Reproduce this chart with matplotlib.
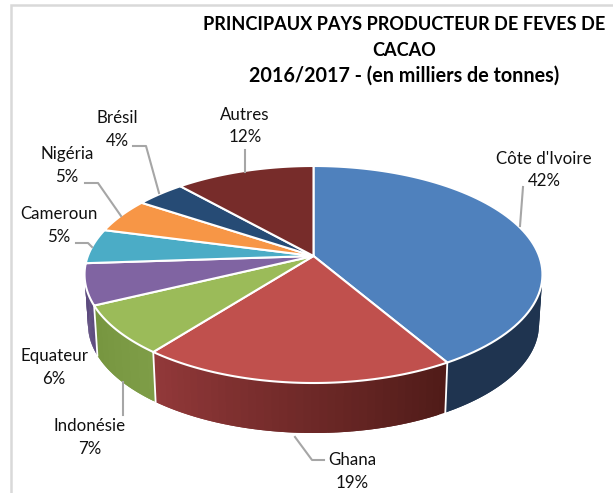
import numpy as np
import matplotlib
matplotlib.use("Agg")
import matplotlib.pyplot as plt
from matplotlib.patches import Polygon

plt.rcParams['font.family'] = ['Lato', 'DejaVu Sans']

# data (clockwise from 12 o'clock)
pays = ["Côte d'Ivoire", "Ghana", "Indonésie", "Equateur", "Cameroun", "Nigéria", "Brésil", "Autres"]
valeurs = [41.6, 19.0, 7.3, 6.1, 5.2, 5.2, 4.1, 11.6]
etiquettes = ["42%", "19%", "7%", "6%", "5%", "5%", "4%", "12%"]

couleurs = ['#4f81bd', '#c0504d', '#9bbb59', '#8064a2', '#4bacc6', '#f79646', '#264b75', '#772c2a']
# wall colours, start and end of each slice (only the front ones show)
cotes = [('#1f3551', '#1f3450'), ('#4f1b18', '#93393a'), ('#7e9d47', '#76953f'), ('#5c4a7e', '#5c4a7e')]

# label centres in pixels
lab_x = [544, 352, 90, 54, 59, 67, 117, 245]
lab_y = [159, 460, 426, 356, 214, 154, 118, 115]

# leader lines in pixels
leaders = [
    [(523, 187), (520, 226)],
    [(295, 437), (312, 460), (324, 460)],
    [(123, 382), (123, 415)],
    [(76, 243), (88, 243), (92, 247)],
    [(85, 183), (98, 183), (121, 216)],
    [(133, 146), (146, 146), (159, 193)],
    [(245, 150), (245, 172)],
]

# pie seen in perspective
cx, cy = 313.5, 256
k = 0.1705
a = 225.6
b = 105.35
depth = 50


def projette(theta):
    # theta clockwise from top, radians
    u = np.sin(theta)
    v = -np.cos(theta)
    w = 1 - k * v
    return cx + a * u / w, cy + b * v / w


def bas(x, y):
    return cx + (x - cx) * 0.985, y + depth


def melange(c1, c2, t):
    c1 = np.array(matplotlib.colors.to_rgb(c1))
    c2 = np.array(matplotlib.colors.to_rgb(c2))
    return c1 + (c2 - c1) * t


fig = plt.figure(figsize=(6.13, 4.93), dpi=100)
ax = fig.add_axes([0, 0, 1, 1])
ax.set_xlim(0, 613)
ax.set_ylim(493, 0)
ax.axis('off')

# chart frame
ax.plot([613, 11, 11], [5, 5, 493], color='#d9d9d9', lw=1.8, solid_joinstyle='miter')

fracs = np.array(valeurs) / sum(valeurs)
bornes = np.concatenate([[0], np.cumsum(fracs)]) * 2 * np.pi

# walls, each quad runs over the next one so no seams show in the gradient
for i in range(len(cotes)):
    ts = np.linspace(bornes[i], bornes[i + 1], 41)
    for j in range(40):
        fin = ts[min(j + 2, 40)]
        xs, ys = projette(np.linspace(ts[j], fin, 4))
        xb, yb = bas(xs, ys)
        pts = list(zip(xs, ys)) + list(zip(xb[::-1], yb[::-1]))
        c = melange(cotes[i][0], cotes[i][1], (j + 0.5) / 40)
        ax.add_patch(Polygon(pts, fc=c, ec='none', zorder=2))

# white seams between walls, front ones only
for t in bornes[1:4]:
    x, y = projette(t)
    xb, yb = bas(x, y)
    ax.plot([x, xb], [y, yb], color='white', lw=1.3, zorder=3)

# top of the pie
for i in range(len(valeurs)):
    ts = np.linspace(bornes[i], bornes[i + 1], 80)
    xs, ys = projette(ts)
    pts = [(cx, cy)] + list(zip(xs, ys))
    ax.add_patch(Polygon(pts, fc=couleurs[i], ec='white', lw=1.5, joinstyle='round', zorder=4))

for pl in leaders:
    xs, ys = zip(*pl)
    ax.plot(xs, ys, color='#a6a6a6', lw=1.5, zorder=5)

for x, y, nom, pct in zip(lab_x, lab_y, pays, etiquettes):
    ax.text(x, y, nom, ha='center', va='center', fontsize=12.2, color='#111111', zorder=6)
    ax.text(x, y + 22.5, pct, ha='center', va='center', fontsize=12.2, color='#111111', zorder=6)

titre = ["PRINCIPAUX PAYS PRODUCTEUR DE FEVES DE", "CACAO", "2016/2017 - (en milliers de tonnes)"]
for y, ligne, fs in zip([25, 50, 76], titre, [13.1, 13.1, 14.2]):
    ax.text(404, y, ligne, ha='center', va='center', fontsize=fs, fontweight='bold', color='black', zorder=6)

fig.savefig('out.png', dpi=100)
